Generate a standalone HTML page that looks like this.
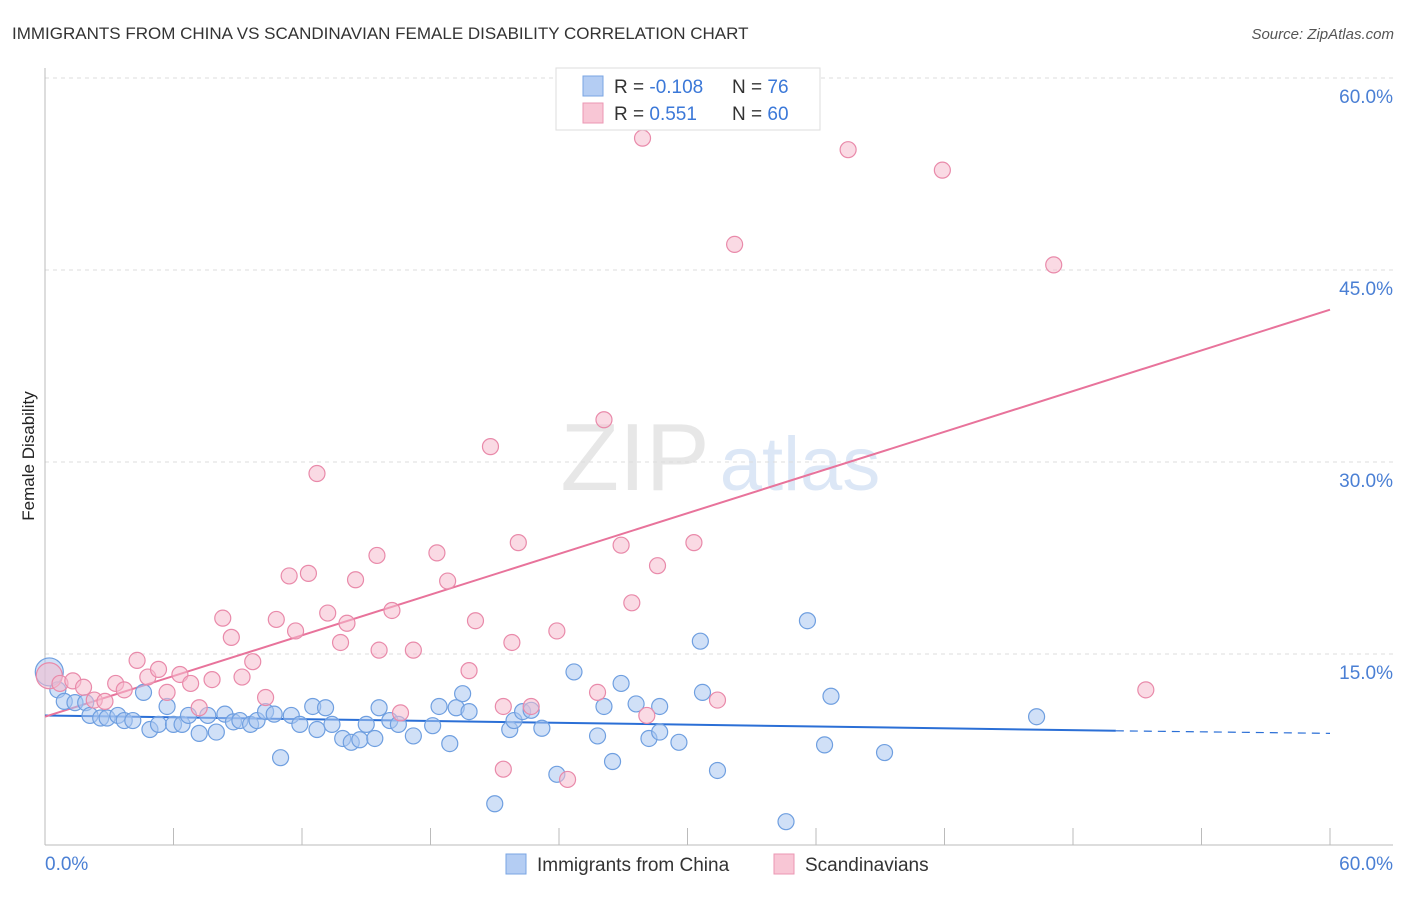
<!DOCTYPE html>
<html><head><meta charset="utf-8"><style>
body{margin:0;background:#fff;font-family:"Liberation Sans",sans-serif}
svg text{font-family:"Liberation Sans",sans-serif}
</style></head><body>
<svg id="chart" width="1406" height="892" xmlns="http://www.w3.org/2000/svg">
<text x="12" y="39" font-size="17" fill="#333">IMMIGRANTS FROM CHINA VS SCANDINAVIAN FEMALE DISABILITY CORRELATION CHART</text>
<text x="1394" y="39" font-size="15" fill="#555" text-anchor="end" font-style="italic">Source: ZipAtlas.com</text>
<text x="34" y="456" font-size="17" fill="#222" transform="rotate(-90 34 456)" text-anchor="middle">Female Disability</text>
<g opacity="0.35">
<text x="635" y="490" font-size="96" fill="#bbb" font-family="Liberation Serif,serif" text-anchor="middle">ZIP</text>
<text x="800" y="490" font-size="76" fill="#9dbbe6" text-anchor="middle">atlas</text>
</g>
<g id="grid"></g>
<g id="axes"></g>
<g id="lines"></g>
<g id="points"></g>
<g>
<rect x="556" y="68" width="264" height="62" fill="#fff" stroke="#ddd"/>
<rect x="583" y="76" width="20" height="20" fill="#b4cdf3" stroke="#7aa5e3"/>
<rect x="583" y="103" width="20" height="20" fill="#f8c6d5" stroke="#eb97b3"/>
<text x="614" y="93" font-size="19" fill="#333">R = <tspan fill="#3b78d8">-0.108</tspan></text>
<text x="732" y="93" font-size="19" fill="#333">N = <tspan fill="#3b78d8"> 76</tspan></text>
<text x="614" y="120" font-size="19" fill="#333">R = <tspan fill="#3b78d8"> 0.551</tspan></text>
<text x="732" y="120" font-size="19" fill="#333">N = <tspan fill="#3b78d8">60</tspan></text>
</g>
<g>
<rect x="506" y="854" width="20" height="20" fill="#b4cdf3" stroke="#7aa5e3"/>
<text x="537" y="871" font-size="19" fill="#333">Immigrants from China</text>
<rect x="774" y="854" width="20" height="20" fill="#f8c6d5" stroke="#eb97b3"/>
<text x="805" y="871" font-size="19" fill="#333">Scandinavians</text>
</g>
</svg>
<script>
const yTicks=[15,30,45,60];
const yTickLabels=["15.0%","30.0%","45.0%","60.0%"];
const xTickLabels=["0.0%","60.0%"];
const chinaX=[0.2,0.6,0.9,1.4,1.9,2.1,2.6,2.9,3.4,3.7,4.1,4.6,4.9,5.3,5.7,6.0,6.4,6.7,7.2,7.6,8.0,8.4,8.8,9.1,9.6,9.9,10.3,10.7,11.0,11.5,11.9,12.5,12.7,13.1,13.4,13.9,14.3,14.7,15.0,15.4,15.6,16.1,16.5,17.2,18.1,18.4,18.9,19.2,19.5,19.8,21.0,21.7,21.9,22.3,22.7,23.2,23.9,24.7,25.8,26.5,26.9,26.1,27.6,28.2,28.7,28.7,29.6,30.6,30.7,31.4,34.6,35.6,36.4,36.7,39.2,46.3];
const chinaY=[13.6,12.2,11.3,11.2,11.2,10.2,10.0,10.0,10.2,9.8,9.8,12.0,9.1,9.5,10.9,9.5,9.5,10.2,8.8,10.2,8.9,10.3,9.7,9.8,9.5,9.8,10.5,10.3,6.9,10.2,9.5,10.9,9.1,10.8,9.5,8.4,8.1,8.3,9.5,8.4,10.8,9.8,9.5,8.6,9.4,10.9,8.0,10.8,11.9,10.5,3.3,9.1,9.8,10.5,10.6,9.2,5.6,13.6,8.6,6.6,12.7,10.9,11.1,8.4,8.9,10.9,8.1,16.0,12.0,5.9,1.9,17.6,7.9,11.7,7.3,10.1];
const scanX=[0.2,0.7,1.3,1.8,2.3,2.8,3.3,3.7,4.3,4.8,5.3,5.7,6.3,6.8,7.2,7.8,8.3,8.7,9.2,9.7,10.3,10.8,11.4,11.7,12.3,12.7,13.2,13.8,14.1,14.5,15.5,15.6,16.2,16.6,17.2,18.3,18.8,19.8,20.1,20.8,21.4,21.8,22.1,22.7,23.9,24.4,25.8,26.1,26.9,27.4,27.9,28.1,28.6,30.3,31.4,32.2,37.5,41.9,47.1,51.4,21.4];
const scanY=[13.3,12.7,12.9,12.4,11.4,11.3,12.7,12.2,14.5,13.2,13.8,12.0,13.4,12.7,10.8,13.0,17.8,16.3,13.2,14.4,11.6,17.7,21.1,16.8,21.3,29.1,18.2,15.9,17.4,20.8,22.7,15.3,18.4,10.4,15.3,22.9,20.7,13.7,17.6,31.2,10.9,15.9,23.7,10.9,16.8,5.2,12.0,33.3,23.5,19.0,55.3,10.2,21.9,23.7,11.4,47.0,54.4,52.8,45.4,12.2,6.0];
const chinaTrend=[10.2,9.0,8.8];
const scanTrend=[10.1,41.9];
const NS="http://www.w3.org/2000/svg";
const X0=45,X1=1330,Y0=846,Y60=78;
const sx=v=>X0+(X1-X0)*v/60, sy=v=>Y0-(Y0-Y60)*v/60;
function mk(tag,attrs,parent){const e=document.createElementNS(NS,tag);for(const k in attrs)e.setAttribute(k,attrs[k]);document.getElementById(parent).appendChild(e);return e;}
yTicks.forEach((t,i)=>{
 const g=mk('line',{x1:45,x2:1393,y1:sy(t),y2:sy(t),stroke:'#ddd','stroke-dasharray':'4,4'},'grid');
 
 
 const l=mk('text',{x:1393,y:sy(t)+25,'font-size':19,fill:'#4a7fd4','text-anchor':'end'},'grid');
 l.textContent=yTickLabels[i];
 
 
});
const ax=mk('line',{x1:45,x2:1393,y1:845,y2:845,stroke:'#bbb'},'axes');


const ay=mk('line',{x1:45,x2:45,y1:68,y2:845,stroke:'#bbb'},'axes');


for(let i=1;i<=10;i++){
 const t=mk('line',{x1:sx(i*6),x2:sx(i*6),y1:828,y2:845,stroke:'#bbb'},'axes');
 
 
}
[[0,'start',45],[60,'end',1393]].forEach((d,i)=>{
 const l=mk('text',{x:d[2],y:870,'font-size':19,fill:'#4a7fd4','text-anchor':d[1]},'axes');
 l.textContent=xTickLabels[i];
 
 
});
function dot(x,y,r,fill,stroke,name){
 const c=mk('circle',{cx:sx(x),cy:sy(y),r:r,fill:fill,stroke:stroke,'stroke-width':1.2,'fill-opacity':0.55},'points');
 
 
}
chinaX.forEach((x,i)=>dot(x,chinaY[i],i===0?14:8,'#a9c6f0','#6f9fe0','china-point'));
scanX.forEach((x,i)=>dot(x,scanY[i],i===0?13:8,'#f6bccd','#e98aaa','scandinavian-point'));
const bl=mk('line',{x1:sx(0),y1:sy(chinaTrend[0]),x2:sx(50),y2:sy(chinaTrend[1]),stroke:'#2b6fd6','stroke-width':2},'lines');


const bd=mk('line',{x1:sx(50),y1:sy(chinaTrend[1]),x2:sx(60),y2:sy(chinaTrend[2]),stroke:'#2b6fd6','stroke-width':1.2,'stroke-dasharray':'8,6'},'lines');


const pl=mk('line',{x1:sx(0),y1:sy(scanTrend[0]),x2:sx(60),y2:sy(scanTrend[1]),stroke:'#e8739b','stroke-width':2},'lines');


</script>
</body></html>
